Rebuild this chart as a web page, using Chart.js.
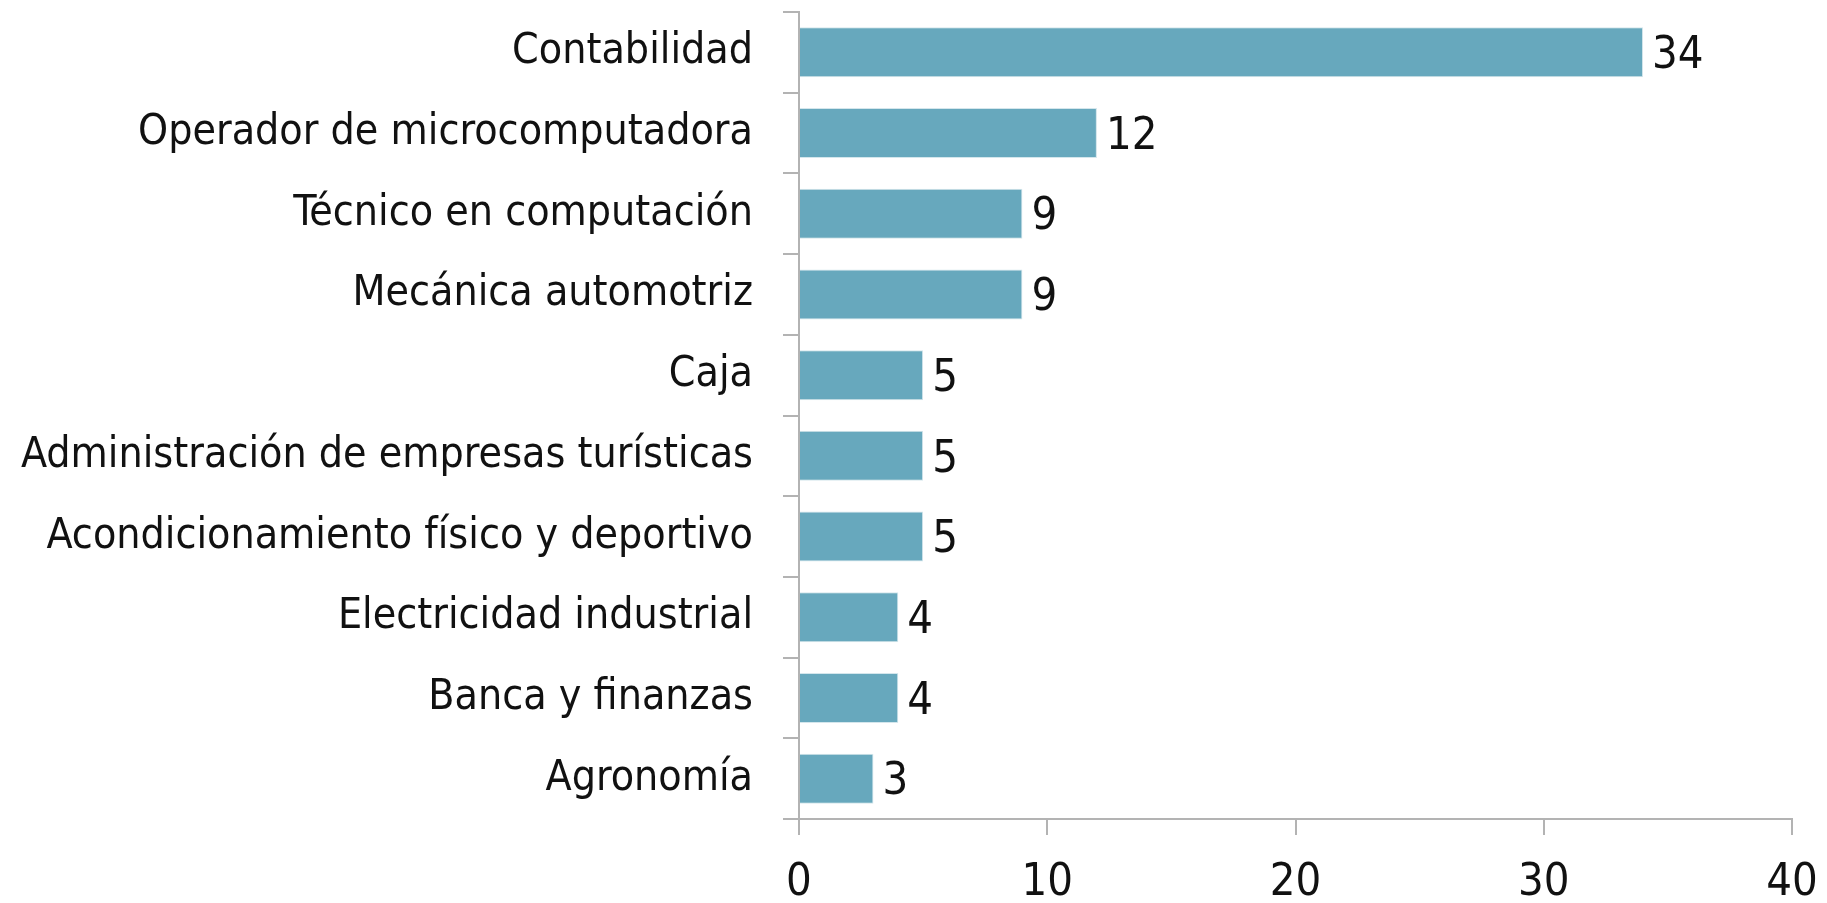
<!DOCTYPE html>
<html>
<head>
<meta charset="utf-8">
<script src="https://cdn.jsdelivr.net/npm/chart.js@4/dist/chart.umd.min.js"></script>
<style>
  html, body { margin: 0; padding: 0; background: #fff; }
  #wrap { width: 1827px; height: 903px; }
</style>
</head>
<body>
<div id="wrap"><canvas id="careerChart"></canvas></div>
<script>
const categories = [
  "Contabilidad",
  "Operador de microcomputadora",
  "Técnico en computación",
  "Mecánica automotriz",
  "Caja",
  "Administración de empresas turísticas",
  "Acondicionamiento físico y deportivo",
  "Electricidad industrial",
  "Banca y finanzas",
  "Agronomía",
];
const counts = [34, 12, 9, 9, 5, 5, 5, 4, 4, 3];
const xTicks = [0, 10, 20, 30, 40];

const FONT = "'DejaVu Sans Condensed', 'Liberation Sans Narrow', sans-serif";
const axisGray = "#b3b3b3";

// draws the value just right of each bar
const valueLabels = {
  id: "valueLabels",
  afterDatasetsDraw(chart) {
    const ctx = chart.ctx;
    const meta = chart.getDatasetMeta(0);
    ctx.save();
    ctx.font = "45px " + FONT;
    ctx.fillStyle = "#111";
    ctx.textAlign = "left";
    ctx.textBaseline = "middle";
    meta.data.forEach((bar, i) => {
      ctx.fillText(String(counts[i]), bar.x + 9, bar.y + 4);
    });
    ctx.restore();
  },
};

new Chart(document.getElementById("careerChart"), {
  type: "bar",
  data: {
    labels: categories,
    datasets: [
      {
        data: counts,
        backgroundColor: "#67a8bd",
        borderColor: "#d4e6ec",
        borderWidth: 1,
        barPercentage: 0.62,
        categoryPercentage: 1,
      },
    ],
  },
  options: {
    indexAxis: "y",
    responsive: true,
    maintainAspectRatio: false,
    animation: false,
    layout: { padding: { top: 12, right: 35, left: 0, bottom: 0 } },
    plugins: { legend: { display: false }, tooltip: { enabled: false } },
    scales: {
      x: {
        min: 0,
        max: 40,
        afterBuildTicks: (scale) => {
          scale.ticks = xTicks.map((v) => ({ value: v }));
        },
        border: { color: axisGray, width: 2 },
        grid: {
          drawOnChartArea: false,
          color: axisGray,
          lineWidth: 2,
          tickLength: 16,
        },
        ticks: {
          color: "#111",
          padding: 21,
          font: { family: FONT, size: 45 },
        },
        afterFit: (scale) => {
          scale.height = 84;
          scale.paddingLeft = 0;
          scale.paddingRight = 0;
        },
      },
      y: {
        border: { color: axisGray, width: 2 },
        grid: {
          offset: true,
          drawOnChartArea: false,
          color: axisGray,
          lineWidth: 2,
          tickLength: 16,
        },
        ticks: {
          color: "#111",
          padding: 30,
          font: { family: FONT, size: 42.5 },
        },
        afterFit: (scale) => {
          scale.width = 799;
          scale.paddingTop = 0;
          scale.paddingBottom = 0;
        },
      },
    },
  },
  plugins: [valueLabels],
});
</script>
</body>
</html>
